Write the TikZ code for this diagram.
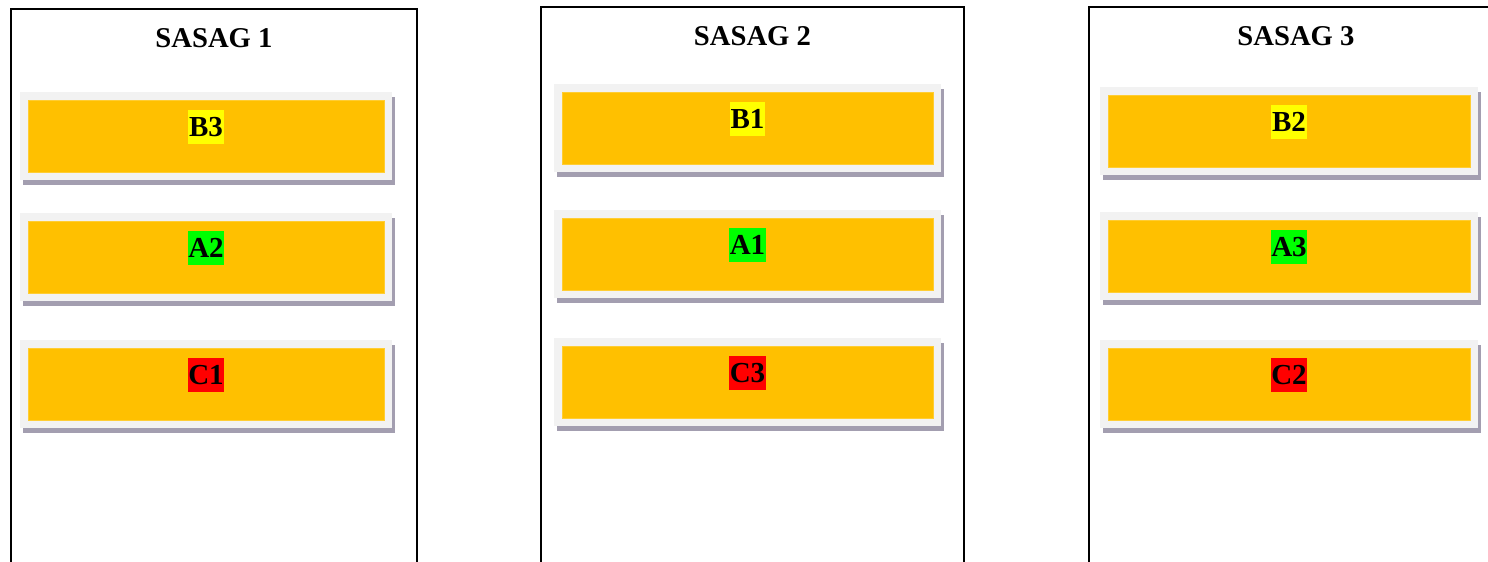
\documentclass[tikz,border=0pt]{standalone}
\usepackage{fontspec}
\setmainfont{Liberation Serif}
\usetikzlibrary{shadows}
\definecolor{framegray}{HTML}{F2F2F2}
\definecolor{shadowgray}{HTML}{A39EB0}
\definecolor{slotorange}{HTML}{FFC000}
\definecolor{markyellow}{HTML}{FFFF00}
\definecolor{markgreen}{HTML}{00FF00}
\definecolor{markred}{HTML}{FF0000}
\tikzset{
  panel/.style={draw=black, line width=1.2pt},
  paneltitle/.style={anchor=base, font=\fontsize{21.5}{26}\selectfont\bfseries, inner sep=0pt},
  outerbox/.style={fill=framegray, inner sep=0pt,
    drop shadow={shadow xshift=2.25pt, shadow yshift=-3.5pt, fill=shadowgray, opacity=1}},
  innerbox/.style={fill=slotorange, draw=slotorange!80!white, line width=0.3pt, inner sep=0pt},
  tag/.style={font=\fontsize{21.75}{26}\selectfont\bfseries, inner xsep=0.5pt, inner ysep=0pt,
    minimum height=25.5pt, text=black},
}
% one slot: name, x1, y1, x2, y2 (outer frame, px), label, marker colour
\newcommand\slotcell[7]{%
  \node[outerbox, minimum width={(#4-#2)*0.75pt}, minimum height={(#5-#3)*0.75pt}]
    (#1) at ({(#2+#4)/2},{(#3+#5)/2}) {};
  \node[innerbox, minimum width={(#4-#2-16)*0.75pt}, minimum height={(#5-#3-16)*0.75pt}]
    (#1in) at (#1.center) {};
  \node[tag, fill=#7] (#1tag) at ({(#2+#4)/2},{#3+35}) {#6};
}
\begin{document}
\begin{tikzpicture}[x=0.75pt, y=-0.75pt]
  \useasboundingbox (0,0) rectangle (1488,561);
  \clip (0,0) rectangle (1488,561);

  % group frames, open at the bottom
  \draw[panel] (11,565) -- (11,9) -- (417,9) -- (417,565);
  \draw[panel] (541,565) -- (541,7) -- (964,7) -- (964,565);
  \draw[panel] (1089,565) -- (1089,7) -- (1500,7);

  \node[paneltitle] (t1) at (214,47) {SASAG 1};
  \node[paneltitle] (t2) at (752.5,45) {SASAG 2};
  \node[paneltitle] (t3) at (1296,45) {SASAG 3};

  % SASAG 1
  \slotcell{b3}{20}{92}{392}{180}{B3}{markyellow}
  \slotcell{a2}{20}{213}{392}{301}{A2}{markgreen}
  \slotcell{c1}{20}{340}{392}{428}{C1}{markred}

  % SASAG 2
  \slotcell{b1}{554}{84}{941}{172}{B1}{markyellow}
  \slotcell{a1}{554}{210}{941}{298}{A1}{markgreen}
  \slotcell{c3}{554}{338}{941}{426}{C3}{markred}

  % SASAG 3
  \slotcell{b2}{1100}{87}{1478}{175}{B2}{markyellow}
  \slotcell{a3}{1100}{212}{1478}{300}{A3}{markgreen}
  \slotcell{c2}{1100}{340}{1478}{428}{C2}{markred}
\end{tikzpicture}
\end{document}
